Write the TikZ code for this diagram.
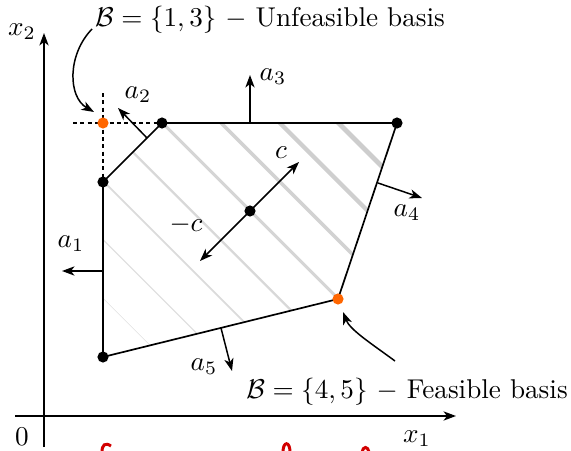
\documentclass[tikz,border=0pt]{standalone}
\usetikzlibrary{arrows.meta}
\definecolor{orng}{RGB}{255,102,0}
\definecolor{frag}{RGB}{210,0,0}
\begin{document}
\begin{tikzpicture}[x=0.368pt,y=-0.368pt,
  dot/.style={circle,fill=black,inner sep=0pt,minimum size=4.1pt},
  odot/.style={dot,fill=orng},
  edge/.style={line width=0.62pt},
  arr/.style={line width=0.55pt,-{Stealth[length=4.6pt,width=3.4pt,inset=1.3pt]}},
  dashline/.style={line width=0.5pt,dash pattern=on 1.5pt off 1.2pt},
  hatchline/.style={gray!38},
  lbl/.style={inner sep=0pt}
]
\useasboundingbox (0,0) rectangle (571,450);

% polygon vertices
\coordinate (p1) at (103,182);
\coordinate (p2) at (162,123);
\coordinate (p3) at (397,123);
\coordinate (p4) at (338,299);
\coordinate (p5) at (103,357);
\coordinate (pu) at (103,123);
\coordinate (pc) at (250,211);

% hatching
\begin{scope}
  \clip (p1) -- (p2) -- (p3) -- (p4) -- (p5) -- cycle;
  \foreach \k in {1,...,8} {
    \pgfmathsetmacro{\d}{-254+58.7*\k}
    \pgfmathsetmacro{\w}{0.22*\k}
    \pgfmathsetmacro{\g}{22+2.2*\k}
    \draw[gray!\g, line width=\w pt] (0,{-\d}) -- (500,{500-\d});
  }
\end{scope}

% axes
\coordinate (xs) at (15,416);
\coordinate (xe) at (456,416);
\coordinate (ys) at (44,447);
\coordinate (ye) at (44,33);
\draw[arr] (xs) -- (xe);
\draw[arr] (ys) -- (ye);
\node[lbl] (x1) at (417,439) {$x_1$};
\node[lbl] (x2) at (22,32) {$x_2$};
\node[lbl] (zero) at (22,437) {$0$};

% dashed lines
\coordinate (dh) at (73,123);
\coordinate (dv) at (103,93);
\draw[dashline] (dh) -- (p2);
\draw[dashline] (dv) -- (p1);

% polygon
\draw[edge] (p1) -- (p2) -- (p3) -- (p4) -- (p5) -- cycle;

% normals
\coordinate (n1s) at (103,271); \coordinate (n1e) at (62,271);
\coordinate (n2s) at (147,138); \coordinate (n2e) at (118,108);
\coordinate (n3s) at (250,123); \coordinate (n3e) at (250,75);
\coordinate (n4s) at (378,183); \coordinate (n4e) at (422,198);
\coordinate (n5s) at (221,328); \coordinate (n5e) at (232,371);
\draw[arr] (n1s) -- (n1e);
\draw[arr] (n2s) -- (n2e);
\draw[arr] (n3s) -- (n3e);
\draw[arr] (n4s) -- (n4e);
\draw[arr] (n5s) -- (n5e);
\node[lbl] (a1) at (71,244) {$a_1$};
\node[lbl] (a2) at (138,95) {$a_2$};
\node[lbl] (a3) at (273,77) {$a_3$};
\node[lbl] (a4) at (407,213) {$a_4$};
\node[lbl] (a5) at (204,367) {$a_5$};

% objective
\coordinate (ce) at (299,162);
\coordinate (mce) at (200,261);
\draw[arr] (pc) -- (ce);
\draw[arr] (pc) -- (mce);
\node[lbl] (c) at (281,153) {$c$};
\node[lbl] (mc) at (186,225) {$-c$};

% dots
\node[dot] (d1) at (p1) {};
\node[dot] (d2) at (p2) {};
\node[dot] (d3) at (p3) {};
\node[odot] (d4) at (p4) {};
\node[dot] (d5) at (p5) {};
\node[odot] (du) at (pu) {};
\node[dot] (dc) at (pc) {};

% basis labels
\node[lbl] (ub) at (270,20) {$\mathcal{B}=\{1,3\}$ $-$ Unfeasible basis};
\node[lbl] (fb) at (407,392) {$\mathcal{B}=\{4,5\}$ $-$ Feasible basis};
\coordinate (ubs) at (92,29);
\coordinate (ube) at (94,112);
\coordinate (fbs) at (395,361);
\coordinate (fbe) at (343,312);
\draw[arr] (ubs) .. controls (67,55) and (68,97) .. (ube);
\draw[arr] (fbs) .. controls (372,344) and (350,330) .. (fbe);

% clipped fragments at bottom edge
\draw[frag, line width=1.1pt] (111,446) .. controls (105,442) and (102,445) .. (102,452);
\draw[frag, line width=1.1pt] (283,452) .. controls (283,441) and (290,441) .. (290,452);
\draw[frag, line width=1.1pt] (362,452) .. controls (363,446) and (368,446) .. (369,452);
\end{tikzpicture}
\end{document}
